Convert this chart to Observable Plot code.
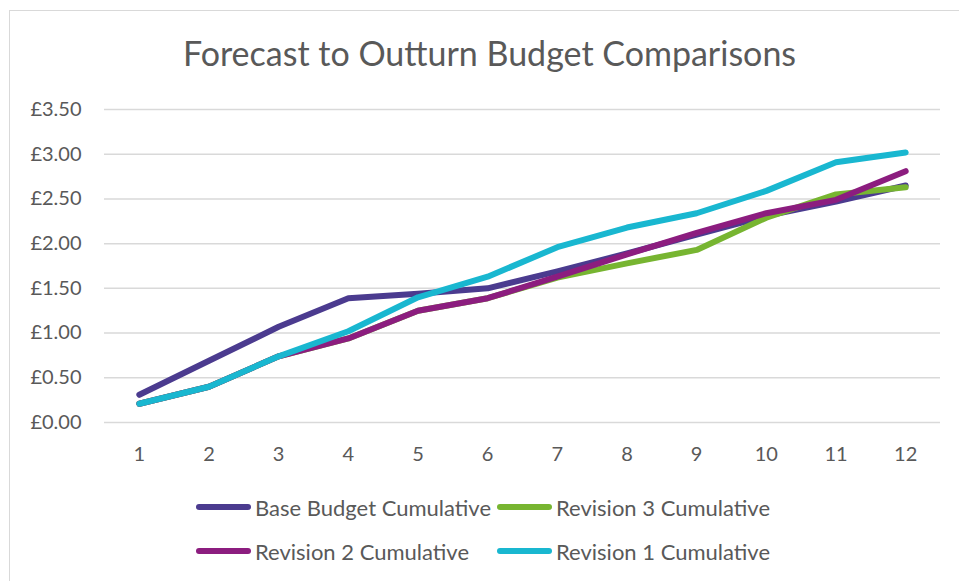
<!DOCTYPE html>
<html>
<head>
<meta charset="utf-8">
<script src="https://cdn.jsdelivr.net/npm/d3@7"></script>
<script src="https://cdn.jsdelivr.net/npm/@observablehq/plot@0.6"></script>
<style>
  html, body { margin: 0; padding: 0; background: #fff; }
  #wrap { position: relative; width: 959px; height: 581px; overflow: hidden; background: #fff; font-family: Lato, "Open Sans", sans-serif; color: #595959; }
  #frame { position: absolute; left: 9px; top: 10px; width: 1000px; height: 700px; border-left: 1.5px solid #D9D9D9; border-top: 1.5px solid #D9D9D9; }
  #title { position: absolute; left: 0; width: 979px; top: 31px; text-align: center; font-size: 34px; line-height: 44px; color: #595959; }
  #chart { position: absolute; left: 0; top: 0; }
  .lg { position: absolute; display: flex; align-items: center; font-size: 22px; color: #595959; white-space: nowrap; }
  .lg span.sw { display: inline-block; width: 55px; height: 6px; border-radius: 3px; margin-right: 4px; }
</style>
</head>
<body>
<div id="wrap">
  <div id="frame"></div>
  <div id="title">Forecast to Outturn Budget Comparisons</div>
  <div id="chart"></div>
  <div id="legend"></div>
</div>
<script>
const months = [1, 2, 3, 4, 5, 6, 7, 8, 9, 10, 11, 12];
const seriesNames = ["Base Budget Cumulative", "Revision 3 Cumulative", "Revision 2 Cumulative", "Revision 1 Cumulative"];
const baseBudget = [0.31, 0.69, 1.07, 1.39, 1.44, 1.50, 1.69, 1.89, 2.10, 2.31, 2.47, 2.65];
const revision3 = [0.21, 0.40, 0.74, 0.94, 1.25, 1.39, 1.62, 1.78, 1.93, 2.29, 2.55, 2.63];
const revision2 = [0.21, 0.40, 0.74, 0.94, 1.25, 1.39, 1.63, 1.88, 2.12, 2.34, 2.49, 2.81];
const revision1 = [0.21, 0.40, 0.74, 1.02, 1.40, 1.63, 1.96, 2.18, 2.34, 2.59, 2.91, 3.02];
const colors = ["#4B3B8F", "#77B531", "#8C1D7F", "#19B7D0"];
const yTicks = [0, 0.5, 1, 1.5, 2, 2.5, 3, 3.5];

const valuesBySeries = [baseBudget, revision3, revision2, revision1];
const data = [];
seriesNames.forEach((s, i) => months.forEach((m, j) => data.push({series: s, month: m, value: valuesBySeries[i][j]})));

const fmt = d => "£" + d3.format(".2f")(d);

const chart = Plot.plot({
  width: 959,
  height: 470,
  marginTop: 109,
  marginBottom: 48,
  marginLeft: 104,
  marginRight: 19,
  style: {fontFamily: "Lato, 'Open Sans', sans-serif", fontSize: "20px", color: "#595959", background: "transparent"},
  x: {type: "point", domain: months, padding: 0.5, round: false, label: null, tickSize: 0, tickPadding: 24},
  y: {domain: [0, 3.5], ticks: yTicks, tickFormat: fmt, label: null, tickSize: 0, tickPadding: 23},
  color: {domain: seriesNames, range: colors},
  marks: [
    Plot.ruleY(yTicks, {stroke: "#D9D9D9", strokeWidth: 1.5}),
    Plot.axisX({tickSize: 0, tickPadding: 24, fill: "#595959"}),
    Plot.axisY({ticks: yTicks, tickFormat: fmt, tickSize: 0, tickPadding: 23, fill: "#595959"}),
    Plot.line(data, {x: "month", y: "value", z: "series", stroke: "series", strokeWidth: 6, strokeLinecap: "round", strokeLinejoin: "round"})
  ]
});
document.getElementById("chart").appendChild(chart);

const legend = document.getElementById("legend");
const pos = [[196, 507], [497, 507], [196, 551], [497, 551]];
seriesNames.forEach((s, i) => {
  const d = document.createElement("div");
  d.className = "lg";
  d.style.left = pos[i][0] + "px";
  d.style.top = (pos[i][1] - 14) + "px";
  d.style.height = "28px";
  d.innerHTML = `<span class="sw" style="background:${colors[i]}"></span>${s}`;
  legend.appendChild(d);
});
</script>
</body>
</html>
